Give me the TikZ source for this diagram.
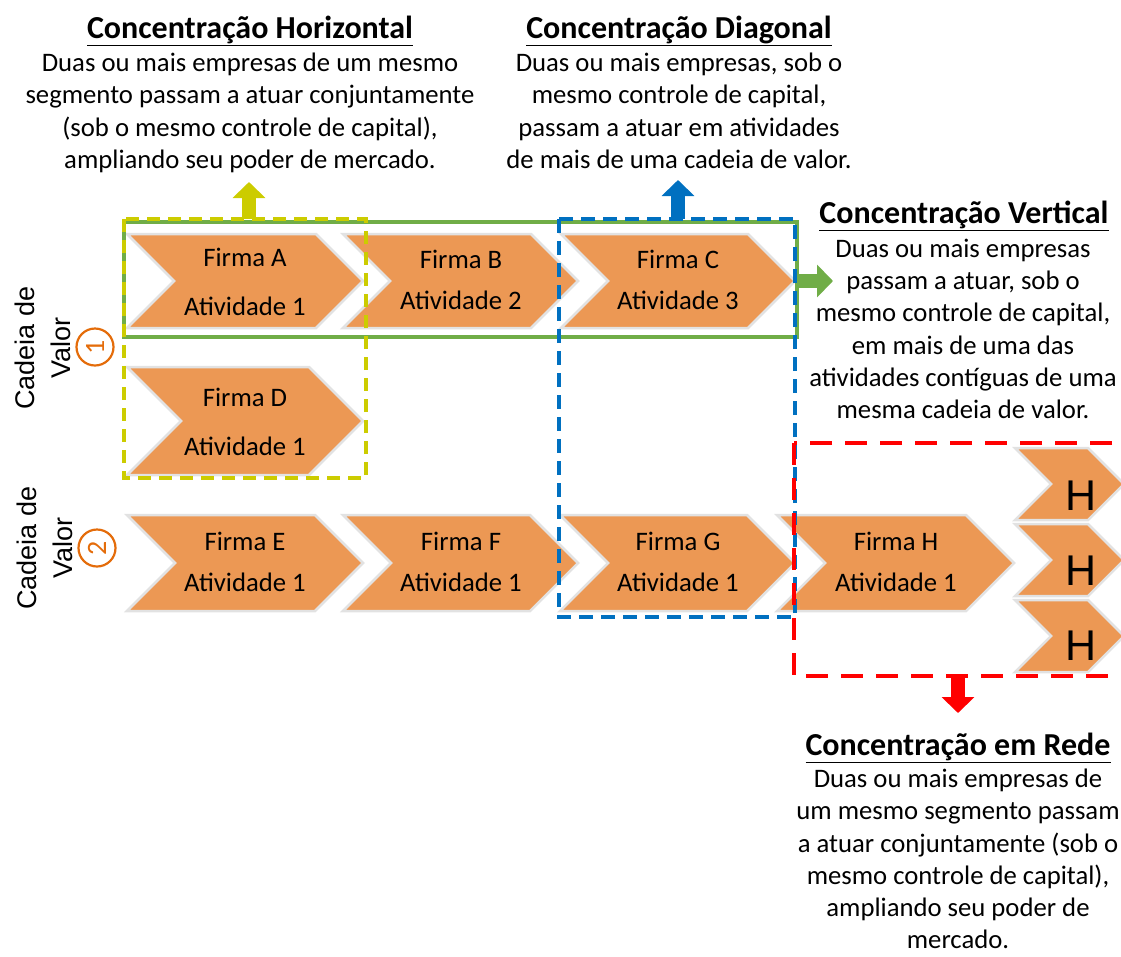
\documentclass[tikz,border=0pt]{standalone}
\usepackage{fontspec}
\setmainfont{Carlito}
\newfontfamily\arialfont{Liberation Sans}
\usetikzlibrary{arrows.meta}

\definecolor{chevfill}{RGB}{236,152,84}
\definecolor{chevedge}{RGB}{226,226,226}
\definecolor{hzyellow}{RGB}{204,204,0}
\definecolor{vtgreen}{RGB}{112,173,71}
\definecolor{dgblue}{RGB}{0,112,192}
\definecolor{rdred}{RGB}{255,0,0}
\definecolor{numorange}{RGB}{228,108,10}

% chevron: x0, x1, ytop, ybottom, notch depth
\newcommand\chevpath[5]{%
  \draw[chevshape] (#1,#3) -- ({#2-#5},#3) -- (#2,{(#3+#4)/2}) -- ({#2-#5},#4)
    -- (#1,#4) -- ({#1+#5},{(#3+#4)/2}) -- cycle;}

\begin{document}
\begin{tikzpicture}[x=1pt,y=-1pt,
  chevshape/.style={fill=chevfill,draw=chevedge,line width=2.5pt,line join=miter},
  lbl/.style={font=\fontsize{26.7}{30}\selectfont,anchor=base,inner sep=0pt},
  bigH/.style={font=\arialfont\fontsize{43}{43}\selectfont,anchor=base,inner sep=0pt},
  head/.style={font=\bfseries\fontsize{32}{36}\selectfont,anchor=base,inner sep=0pt},
  body/.style={font=\fontsize{26.7}{32.2}\selectfont,align=center,anchor=north,inner sep=0pt},
  chain/.style={font=\arialfont\fontsize{27}{36}\selectfont,align=center,rotate=90,inner sep=0pt},
  ring/.style={draw=numorange,line width=2.2pt},
  numtxt/.style={text=numorange,font=\fontsize{28}{28}\selectfont,rotate=90,inner sep=0pt},
  blockarrow/.style={line width=14pt,-{Triangle[width=32pt,length=16pt]}},
  grp/.style={line width=4pt}
]
\useasboundingbox (0,0) rectangle (1121,956);
\clip (0,0) rectangle (1121,956);

% ---- value chain 1 ----
\chevpath{127}{363}{234}{328}{47}
\chevpath{343}{578}{234}{328}{47}
\chevpath{561}{795}{234}{328}{47}
\chevpath{127}{363}{367}{475}{54}

% ---- value chain 2 ----
\chevpath{127}{363}{515}{611}{48}
\chevpath{343}{578}{515}{611}{48}
\chevpath{560}{795}{515}{611}{48}
\chevpath{777}{1014}{515}{611}{48}

% ---- network branches ----
\chevpath{1015}{1124}{448}{520}{36}
\chevpath{1015}{1124}{524}{596}{36}
\chevpath{1015}{1124}{600}{672}{36}

% ---- chevron labels ----
\node[lbl] (fa) at (245,266) {Firma A};
\node[lbl] (aa) at (245,315) {Atividade 1};
\node[lbl] (fb) at (461,268) {Firma B};
\node[lbl] (ab) at (461,309) {Atividade 2};
\node[lbl] (fc) at (678,268) {Firma C};
\node[lbl] (ac) at (678,309) {Atividade 3};
\node[lbl] (fd) at (245,406) {Firma D};
\node[lbl] (ad) at (245,455) {Atividade 1};
\node[lbl] (fe) at (245,550) {Firma E};
\node[lbl] (ae) at (245,591) {Atividade 1};
\node[lbl] (ff) at (461,550) {Firma F};
\node[lbl] (af) at (461,591) {Atividade 1};
\node[lbl] (fg) at (678,550) {Firma G};
\node[lbl] (ag) at (678,591) {Atividade 1};
\node[lbl] (fh) at (896,550) {Firma H};
\node[lbl] (ah) at (896,591) {Atividade 1};
\node[bigH] (h1) at (1081,510) {H};
\node[bigH] (h2) at (1081,585) {H};
\node[bigH] (h3) at (1081,660) {H};

% ---- chain captions ----
\node[chain] (cv1) at (43,348) {Cadeia de\\Valor};
\node[numtxt] (n1) at (95,347) {1};
\draw[ring] (n1) circle[radius=18.5pt];
\node[chain] (cv2) at (45,548) {Cadeia de\\Valor};
\node[numtxt] (n2) at (97,548) {2};
\draw[ring] (n2) circle[radius=18.5pt];

% ---- grouping frames ----
\draw[grp,draw=vtgreen] (124,222) rectangle (797,337);
\draw[grp,draw=hzyellow,dash pattern=on 13pt off 8pt] (124,219) rectangle (366,478);
\draw[grp,draw=dgblue,dash pattern=on 14pt off 8pt] (559,219) rectangle (795,617);
\draw[grp,draw=rdred,dash pattern=on 22pt off 13pt] (794,443) rectangle (1140,676);

% ---- descriptions ----
\node[head] (hz) at (250,38) {\underline{Concentração Horizontal}};
\node[body] (hzt) at (250,53) {Duas ou mais empresas de um mesmo\\segmento passam a atuar conjuntamente\\(sob o mesmo controle de capital),\\ampliando seu poder de mercado.};

\node[head] (dg) at (679,38) {\underline{Concentração Diagonal}};
\node[body] (dgt) at (679,53) {Duas ou mais empresas, sob o\\mesmo controle de capital,\\passam a atuar em atividades\\de mais de uma cadeia de valor.};

\node[head] (vt) at (964,223) {\underline{Concentração Vertical}};
\node[body] (vtt) at (963,239) {Duas ou mais empresas\\passam a atuar, sob o\\mesmo controle de capital,\\em mais de uma das\\atividades contíguas de uma\\mesma cadeia de valor.};

\node[head] (rd) at (958,755) {\underline{Concentração em Rede}};
\node[body] (rdt) at (958,769) {Duas ou mais empresas de\\um mesmo segmento passam\\a atuar conjuntamente (sob o\\mesmo controle de capital),\\ampliando seu poder de\\mercado.};

% ---- arrows from frames to their descriptions ----
\coordinate (hzout) at (249,219);
\coordinate (hzin) at (249,182);
\coordinate (dgout) at (678,219);
\coordinate (dgin) at (678,180);
\coordinate (vtout) at (799,281);
\coordinate (vtin) at (833,281);
\coordinate (rdout) at (958,676);
\coordinate (rdin) at (958,713);
\draw[blockarrow,draw=hzyellow,fill=hzyellow] (hzout) -- (hzin);
\draw[blockarrow,draw=dgblue,fill=dgblue] (dgout) -- (dgin);
\draw[blockarrow,draw=vtgreen,fill=vtgreen] (vtout) -- (vtin);
\draw[blockarrow,draw=rdred,fill=rdred] (rdout) -- (rdin);
\end{tikzpicture}
\end{document}
